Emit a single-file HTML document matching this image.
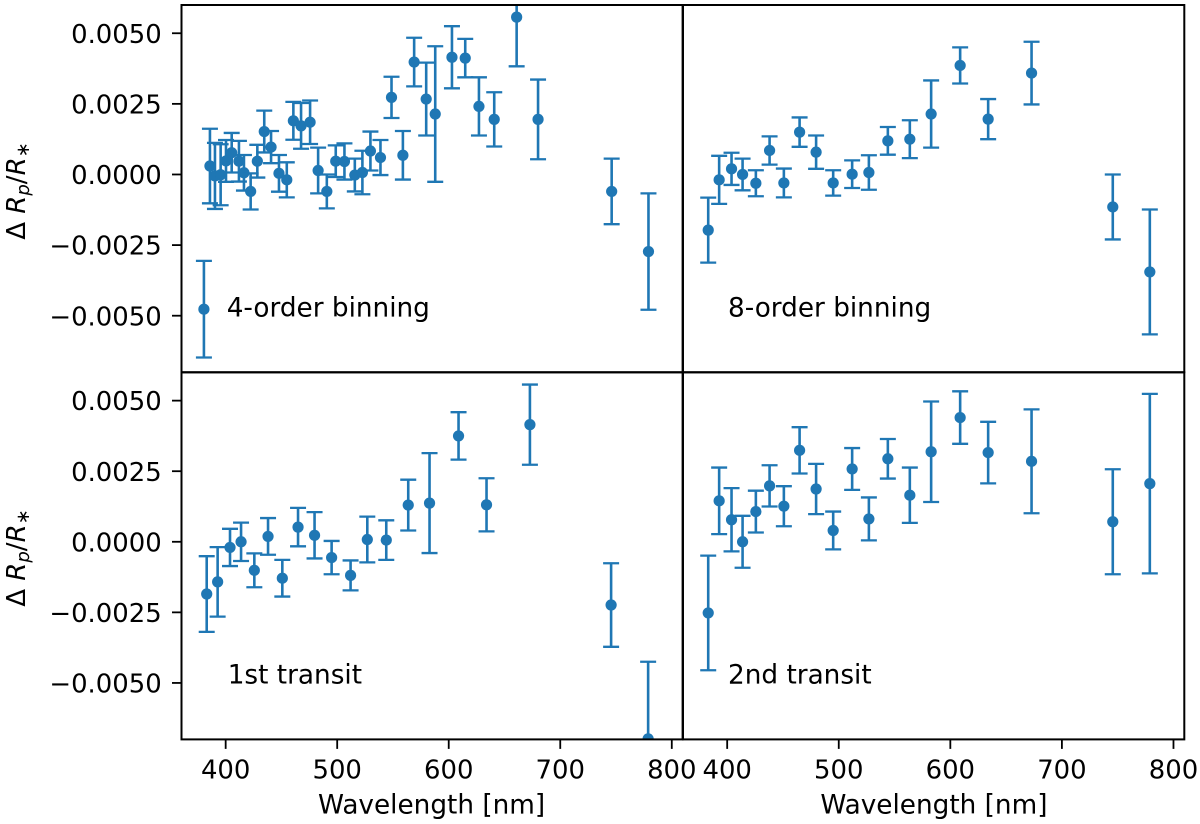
<!DOCTYPE html>
<html lang="en">
<head>
<meta charset="utf-8">
<title>Transmission spectra panels</title>
<style>
html,body{margin:0;padding:0;background:#fff;}
svg{display:block;}
text{font-family:"DejaVu Sans",sans-serif;fill:#000;}
</style>
</head>
<body>
<svg id="chart" xmlns="http://www.w3.org/2000/svg" width="1200" height="824" viewBox="0 0 1200 824">
<rect x="0" y="0" width="1200" height="824" fill="#ffffff"/>
<defs id="defs"></defs>
<g id="plots"></g>
<g id="labels">
<text x="431.6" y="813.3" font-size="26.3" text-anchor="middle">Wavelength [nm]</text>
<text x="933.9" y="813.3" font-size="26.3" text-anchor="middle">Wavelength [nm]</text>
<text transform="translate(25,191) rotate(-90)" font-size="26" text-anchor="middle">Δ <tspan font-style="italic">R</tspan><tspan font-style="italic" font-size="18" dy="4">p</tspan><tspan dy="-4">/</tspan><tspan font-style="italic">R</tspan><tspan font-size="18" dy="4">∗</tspan></text>
<text transform="translate(25,558) rotate(-90)" font-size="26" text-anchor="middle">Δ <tspan font-style="italic">R</tspan><tspan font-style="italic" font-size="18" dy="4">p</tspan><tspan dy="-4">/</tspan><tspan font-style="italic">R</tspan><tspan font-size="18" dy="4">∗</tspan></text>
<text x="226.7" y="316.7" font-size="26.3">4-order binning</text>
<text x="728" y="316.7" font-size="26.3">8-order binning</text>
<text x="227.7" y="683.7" font-size="26.3">1st transit</text>
<text x="728" y="683.7" font-size="26.3">2nd transit</text>
</g>
</svg>
<script>
var wavelengths4 = [380.5,385.9,390.4,395.5,400.3,405.4,411.9,416.4,422.4,428.4,434.6,440.7,447.8,454.8,460.7,467.6,475.7,482.9,490.7,498.7,506.5,515.8,522.6,529.8,538.8,548.7,558.9,569,579.8,587.9,602.9,614.8,627.1,640.8,660.9,680.1,746.1,779.1];
var values4 = [-0.00477,0.0003,-0.00005,-0.00001,0.00048,0.00077,0.00047,0.00006,-0.0006,0.00047,0.00152,0.00097,0.00004,-0.00019,0.0019,0.00172,0.00185,0.00014,-0.0006,0.00047,0.00046,-0.00002,0.00007,0.00083,0.0006,0.00273,0.00068,0.00398,0.00267,0.00214,0.00415,0.00412,0.00241,0.00195,0.00557,0.00195,-0.0006,-0.00273];
var errors4 = [0.00171,0.00132,0.00117,0.00108,0.00074,0.0007,0.00072,0.00063,0.00064,0.00058,0.00074,0.00057,0.00065,0.00062,0.00067,0.00081,0.00077,0.00081,0.0006,0.00056,0.00064,0.00058,0.00077,0.00069,0.00062,0.00073,0.00086,0.00086,0.00129,0.0024,0.0011,0.00068,0.00103,0.00096,0.00174,0.00141,0.00116,0.00206];

var wavelengths8 = [383,392.8,403.9,413.8,425.7,438,450.8,464.9,479.7,495,512,527,544,563.7,582.8,608.8,633.9,672.8,745.6,778.8];
var values8 = [-0.00197,-0.00019,0.0002,0,-0.00031,0.00085,-0.0003,0.0015,0.00079,-0.0003,0.00001,0.00007,0.00119,0.00125,0.00214,0.00386,0.00196,0.00359,-0.00115,-0.00345];
var errors8 = [0.00115,0.00085,0.00057,0.00056,0.00046,0.0005,0.00051,0.00052,0.00059,0.00045,0.00049,0.00061,0.00049,0.00067,0.00119,0.00064,0.00071,0.00111,0.00115,0.00221];

var values1st = [-0.00185,-0.00142,-0.0002,0,-0.00101,0.00019,-0.00129,0.00052,0.00023,-0.00056,-0.00119,0.00008,0.00006,0.0013,0.00137,0.00375,0.00131,0.00415,-0.00224,-0.00698];
var errors1st = [0.00134,0.00123,0.00066,0.00068,0.0006,0.00065,0.00065,0.00068,0.00082,0.00059,0.00053,0.00081,0.0007,0.0009,0.00177,0.00084,0.00094,0.00142,0.00148,0.00273];

var values2nd = [-0.00252,0.00145,0.00078,0,0.00107,0.00198,0.00126,0.00324,0.00187,0.0004,0.00258,0.00081,0.00294,0.00165,0.00319,0.0044,0.00316,0.00285,0.00071,0.00206];
var errors2nd = [0.00203,0.00118,0.00112,0.00092,0.00074,0.00073,0.00071,0.00082,0.00089,0.00067,0.00074,0.00076,0.0007,0.00098,0.00178,0.00093,0.00109,0.00184,0.00186,0.00318];

var xTickValues = [400,500,600,700,800];
var xTickLabels = ["400","500","600","700","800"];
var yTickValues = [0.005,0.0025,0,-0.0025,-0.005];
var yTickLabels = ["0.0050","0.0025","0.0000","\u22120.0025","\u22120.0050"];

var xLimits = [360.4,809.7];
var yLimits = [-0.007,0.006];

var NS = "http://www.w3.org/2000/svg";
var COLOR = "#1f77b4";
var plots = document.getElementById("plots");
var defs = document.getElementById("defs");

function make(tag, parent, attrs) {
  var el = document.createElementNS(NS, tag);
  for (var k in attrs) { el.setAttribute(k, attrs[k]); }
  parent.appendChild(el);
  return el;
}

function drawPanel(id, box, wl, vals, errs, showX, showY) {
  function xScale(w) { return box.left + (w - xLimits[0]) / (xLimits[1] - xLimits[0]) * (box.right - box.left); }
  function yScale(v) { return box.bottom - (v - yLimits[0]) / (yLimits[1] - yLimits[0]) * (box.bottom - box.top); }

  var g = make("g", plots, {});
  
  

  var clip = make("clipPath", defs, { id: "clip-" + id });
  make("rect", clip, { x: box.left, y: box.top, width: box.right - box.left, height: box.bottom - box.top });

  var series = make("g", g, { "clip-path": "url(#clip-" + id + ")" });
  
  

  for (var i = 0; i < wl.length; i++) {
    var px = xScale(wl[i]);
    var py = yScale(vals[i]);
    var hi = yScale(vals[i] + errs[i]);
    var lo = yScale(vals[i] - errs[i]);
    var bar = make("g", series, {});
    
    
    make("line", bar, { x1: px, x2: px, y1: hi, y2: lo, stroke: COLOR, "stroke-width": 2.6 });
    make("line", bar, { x1: px - 8, x2: px + 8, y1: hi, y2: hi, stroke: COLOR, "stroke-width": 2.3 });
    make("line", bar, { x1: px - 8, x2: px + 8, y1: lo, y2: lo, stroke: COLOR, "stroke-width": 2.3 });
    make("circle", bar, { cx: px, cy: py, r: 5.6, fill: COLOR });
  }

  if (showY) {
    for (var j = 0; j < yTickValues.length; j++) {
      var ty = yScale(yTickValues[j]);
      var yTick = make("line", g, { x1: box.left - 9.5, x2: box.left, y1: ty, y2: ty, stroke: "#000", "stroke-width": 1.8 });
      
      
      var yLabel = make("text", g, { x: 161.7, y: ty + 9.6, "font-size": 25.9, "text-anchor": "end" });
      yLabel.textContent = yTickLabels[j];
      
      
    }
  }
  if (showX) {
    for (var m = 0; m < xTickValues.length; m++) {
      var tx = xScale(xTickValues[m]);
      var xTick = make("line", g, { x1: tx, x2: tx, y1: box.bottom, y2: box.bottom + 9.5, stroke: "#000", "stroke-width": 1.8 });
      
      
      var xLabel = make("text", g, { x: tx, y: 778.5, "font-size": 25.9, "text-anchor": "middle" });
      xLabel.textContent = xTickLabels[m];
      
      
    }
  }
  var frame = make("rect", g, { x: box.left, y: box.top, width: box.right - box.left, height: box.bottom - box.top, fill: "none", stroke: "#000", "stroke-width": 2 });
  
  
}

drawPanel("4-order", { left: 181.5, right: 682.6, top: 5, bottom: 372.2 }, wavelengths4, values4, errors4, false, true);
drawPanel("8-order", { left: 683, right: 1184.3, top: 5, bottom: 372.2 }, wavelengths8, values8, errors8, false, false);
drawPanel("1st-transit", { left: 181.5, right: 682.6, top: 372.4, bottom: 739.4 }, wavelengths8, values1st, errors1st, true, true);
drawPanel("2nd-transit", { left: 683, right: 1184.3, top: 372.4, bottom: 739.4 }, wavelengths8, values2nd, errors2nd, true, false);
</script>
</body>
</html>
